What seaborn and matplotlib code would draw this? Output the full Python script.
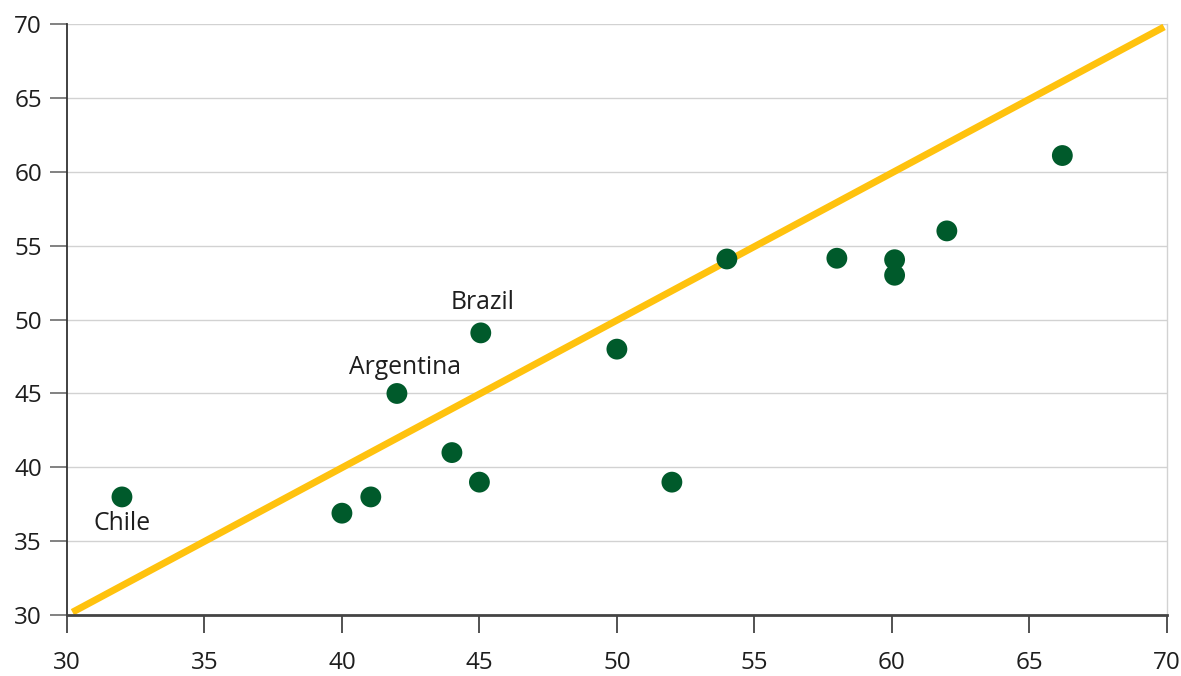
import matplotlib
matplotlib.use("Agg")
import matplotlib.pyplot as plt
import seaborn as sns
import pandas as pd

# values
x_vals = [32, 40, 41.05, 42, 44, 45, 45.05, 50, 52, 54, 58, 60.1, 60.1, 62, 66.2]
y_vals = [38, 36.9, 38, 45, 41, 39, 49.1, 48, 39, 54.1, 54.15, 54.05, 53, 56, 61.1]
line_x = [30.2, 69.9]
line_y = [30.2, 69.8]
labelled = {"Chile": (32, 38), "Argentina": (42, 45), "Brazil": (45.05, 49.1)}
ticks = [30, 35, 40, 45, 50, 55, 60, 65, 70]

df = pd.DataFrame({"x": x_vals, "y": y_vals})

sns.set_style("white")
plt.rcParams['font.family'] = ['Open Sans', 'DejaVu Sans']

fig, ax = plt.subplots(figsize=(11.81, 6.76), dpi=100)
fig.subplots_adjust(left=0.0567, right=0.988, top=0.9645, bottom=0.09)

ax.plot(line_x, line_y, color="#FFC20E", lw=5, solid_capstyle="butt", zorder=2)
sns.scatterplot(data=df, x="x", y="y", color="#005A2B", s=225, edgecolor="none", ax=ax, zorder=3)

offsets = {"Chile": (0, -19), "Argentina": (6, 19), "Brazil": (1, 22)}
for name, (px, py) in labelled.items():
    ax.annotate(name, (px, py), xytext=offsets[name], textcoords="offset points",
                ha="center", va="center", fontsize=17.8, color="#1e1e1e")

ax.set_xlim(30, 70)
ax.set_ylim(30, 70)
ax.set_xticks(ticks)
ax.set_yticks(ticks)
ax.set_xlabel("")
ax.set_ylabel("")
ax.yaxis.grid(True, color="#d2d2d2", lw=1)
ax.xaxis.grid(False)

ax.spines["top"].set_visible(False)
ax.spines["right"].set_color("#d2d2d2")
ax.spines["right"].set_linewidth(1)
ax.spines["left"].set_color("#333333")
ax.spines["bottom"].set_color("#444444")
ax.spines["left"].set_linewidth(1.3)
ax.spines["bottom"].set_linewidth(2)

ax.tick_params(axis="x", direction="out", length=13, width=1.3, color="#444444",
               pad=13, labelsize=17.5, labelcolor="#1e1e1e", bottom=True)
ax.tick_params(axis="y", direction="out", length=12, width=1.3, color="#777777",
               pad=6, labelsize=17.5, labelcolor="#1e1e1e", left=True)

fig.savefig("out.png", dpi=100)
